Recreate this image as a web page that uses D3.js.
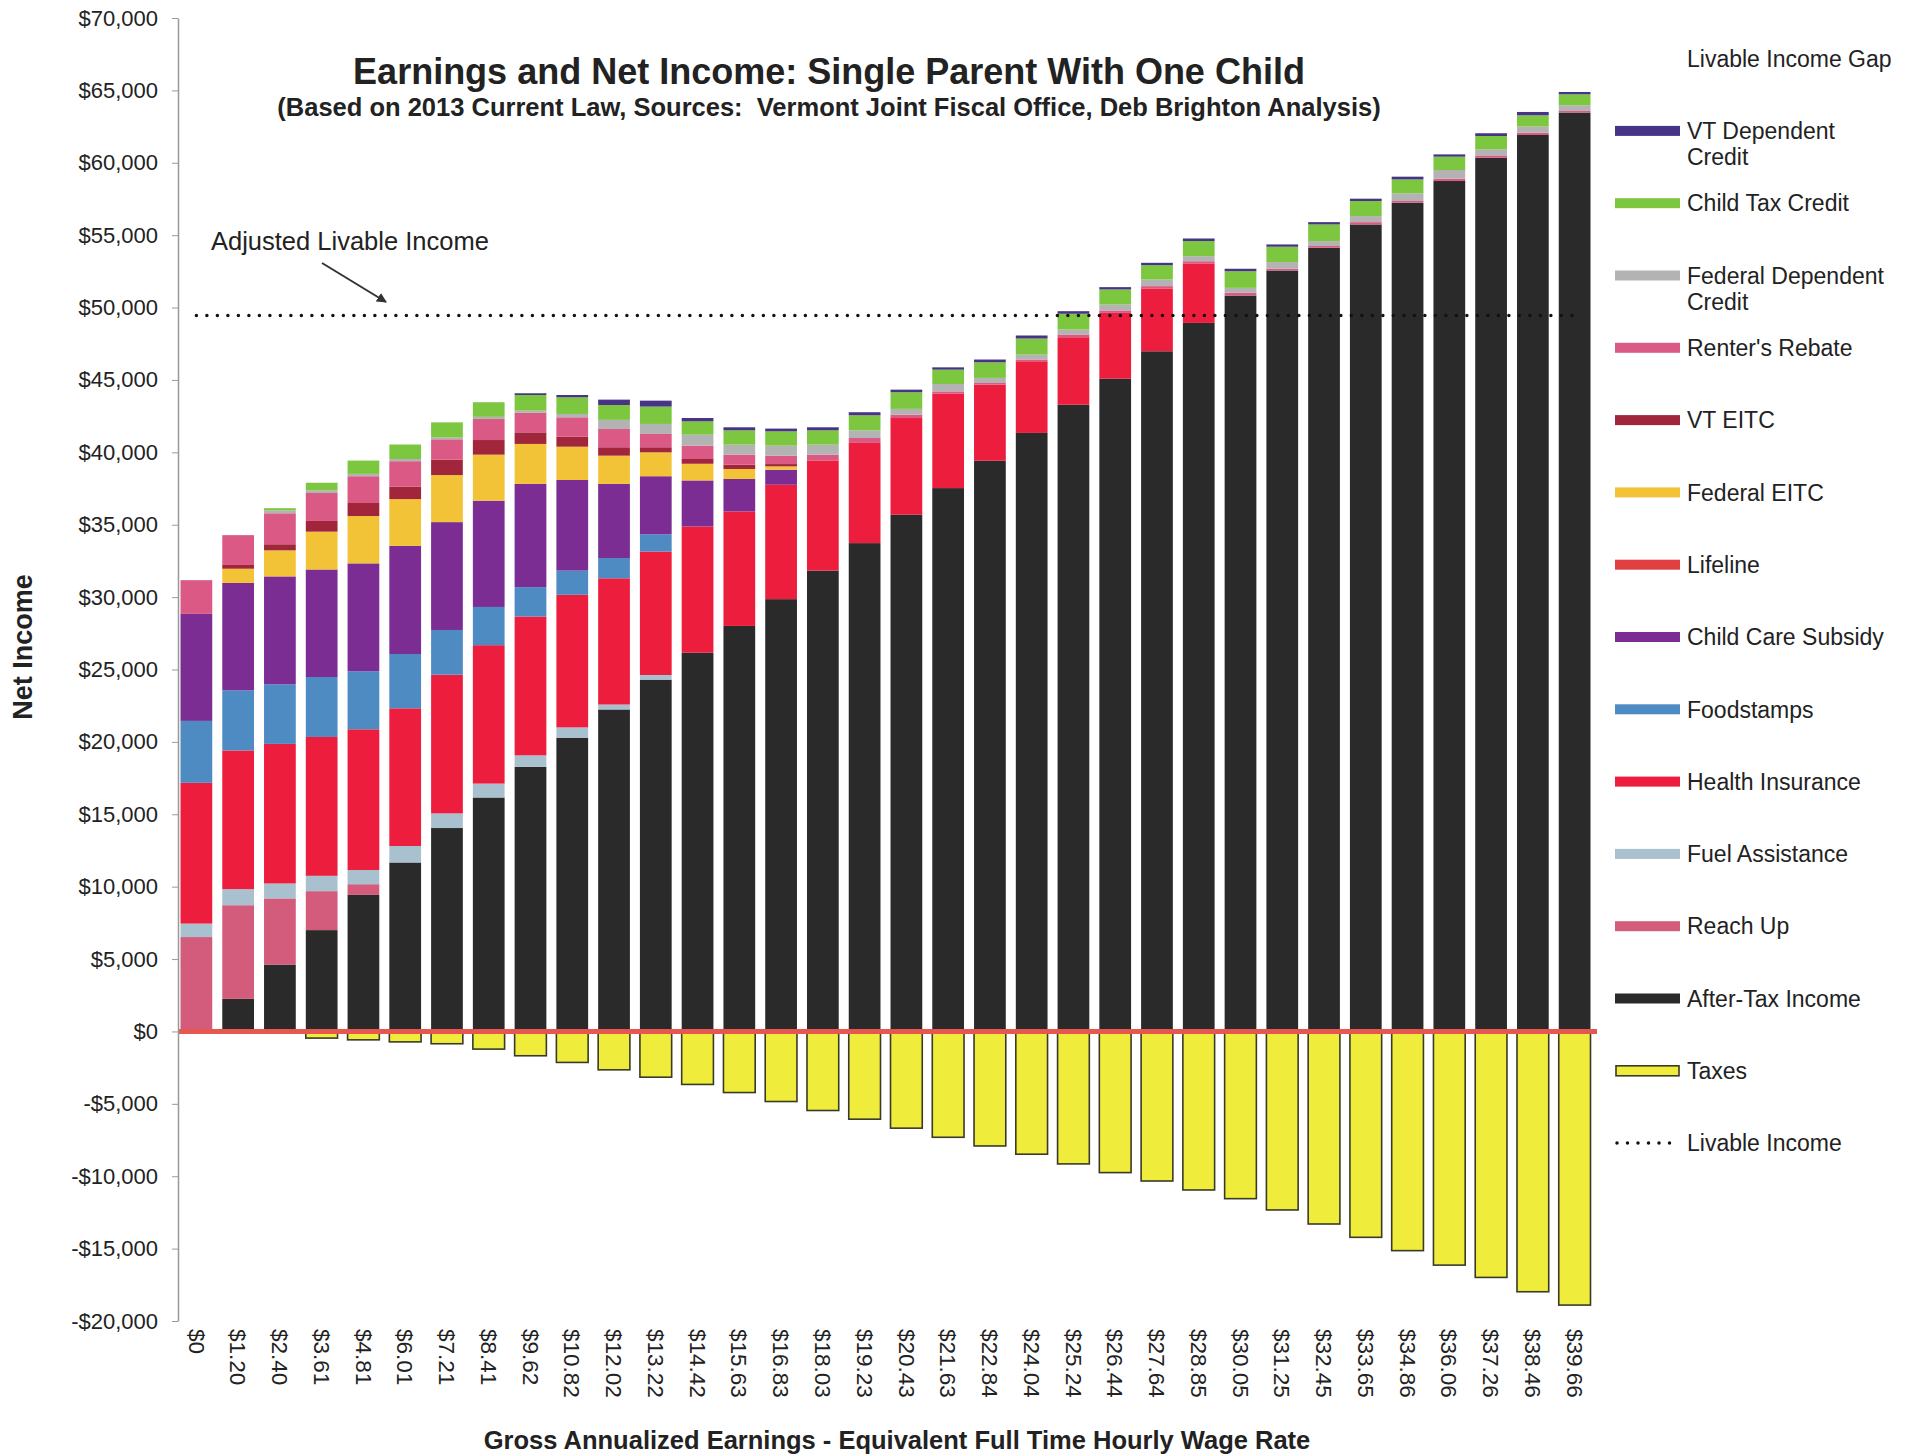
<!DOCTYPE html>
<html>
<head>
<meta charset="utf-8">
<title>Earnings and Net Income: Single Parent With One Child</title>
<script src="https://cdn.jsdelivr.net/npm/d3@7"></script>
<style>
  html, body { margin: 0; padding: 0; background: #fff; }
  svg { display: block; font-family: "Liberation Sans", Arial, sans-serif; }
</style>
</head>
<body>
<div id="chart"></div>
<script>
// Gross annualized earnings, shown as the equivalent full time hourly wage
const wageLabels = ['$0', '$1.20', '$2.40', '$3.61', '$4.81', '$6.01', '$7.21', '$8.41', '$9.62', '$10.82',
    '$12.02', '$13.22', '$14.42', '$15.63', '$16.83', '$18.03', '$19.23', '$20.43', '$21.63', '$22.84',
    '$24.04', '$25.24', '$26.44', '$27.64', '$28.85', '$30.05', '$31.25', '$32.45', '$33.65', '$34.86',
    '$36.06', '$37.26', '$38.46', '$39.66'];

// Net income components in dollars
const afterTaxIncome = [0, 2250, 4620, 7000, 9430, 11670, 14050, 16160, 18280, 20290, 22240, 24300, 26160, 28010, 29860, 31830, 33730, 35690, 37530, 39420, 41340, 43290, 45090, 46980, 48940, 50830, 52560, 54130, 55740, 57240, 58740, 60350, 61920, 63470];
const reachUp = [6520, 6470, 4570, 2690, 740, 0, 0, 0, 0, 0, 0, 0, 0, 0, 0, 0, 0, 0, 0, 0, 0, 0, 0, 0, 0, 0, 0, 0, 0, 0, 0, 0, 0, 0];
const fuelAssistance = [930, 1110, 1030, 1060, 980, 1140, 1010, 960, 790, 710, 340, 320, 0, 0, 0, 0, 0, 0, 0, 0, 0, 0, 0, 0, 0, 0, 0, 0, 0, 0, 0, 0, 0, 0];
const healthInsurance = [9720, 9580, 9640, 9590, 9720, 9510, 9580, 9560, 9590, 9160, 8720, 8530, 8720, 7910, 7900, 7610, 6920, 6680, 6520, 5260, 4950, 4660, 4540, 4340, 4080, 0, 0, 0, 0, 0, 0, 0, 0, 0];
const foodstamps = [4280, 4150, 4120, 4140, 4010, 3750, 3090, 2640, 2030, 1670, 1400, 1190, 0, 0, 0, 0, 0, 0, 0, 0, 0, 0, 0, 0, 0, 0, 0, 0, 0, 0, 0, 0, 0, 0];
const childCareSubsidy = [7390, 7420, 7450, 7430, 7450, 7470, 7450, 7340, 7130, 6260, 5120, 4010, 3180, 2240, 1040, 0, 0, 0, 0, 0, 0, 0, 0, 0, 0, 0, 0, 0, 0, 0, 0, 0, 0, 0];
const lifeline = [0, 0, 0, 0, 0, 0, 0, 0, 0, 0, 0, 0, 0, 0, 0, 0, 0, 0, 0, 0, 0, 0, 0, 0, 0, 0, 0, 0, 0, 0, 0, 0, 0, 0];
const federalEITC = [0, 980, 1800, 2610, 3270, 3230, 3250, 3180, 2760, 2300, 1950, 1650, 1150, 690, 230, 0, 0, 0, 0, 0, 0, 0, 0, 0, 0, 0, 0, 0, 0, 0, 0, 0, 0, 0];
const vtEITC = [0, 260, 420, 740, 900, 870, 1060, 1010, 800, 690, 580, 350, 330, 300, 160, 0, 0, 0, 0, 0, 0, 0, 0, 0, 0, 0, 0, 0, 0, 0, 0, 0, 0, 0];
const rentersRebate = [2330, 2060, 2140, 1930, 1850, 1750, 1410, 1450, 1350, 1340, 1260, 920, 920, 690, 580, 400, 340, 230, 160, 110, 120, 190, 170, 160, 180, 190, 120, 120, 160, 120, 160, 160, 160, 110];
const federalDependentCredit = [0, 0, 200, 180, 160, 150, 120, 150, 150, 230, 630, 690, 760, 690, 690, 690, 530, 400, 510, 350, 340, 340, 410, 460, 350, 340, 460, 340, 420, 530, 600, 420, 420, 390];
const childTaxCredit = [0, 0, 150, 530, 920, 1000, 1050, 1010, 1080, 1150, 1030, 1200, 920, 990, 990, 990, 1040, 1150, 990, 1080, 1110, 1090, 1040, 990, 1040, 1150, 1060, 1150, 1040, 960, 920, 920, 780, 760];
const vtDependentCredit = [0, 0, 0, 0, 0, 0, 0, 0, 120, 160, 370, 410, 230, 210, 190, 210, 210, 180, 160, 190, 210, 180, 160, 160, 180, 170, 160, 160, 160, 190, 160, 190, 230, 160];
const taxes = [0, 0, -100, -460, -580, -720, -850, -1220, -1680, -2140, -2650, -3160, -3660, -4220, -4840, -5460, -6060, -6680, -7310, -7910, -8480, -9150, -9750, -10330, -10950, -11550, -12330, -13300, -14220, -15140, -16140, -16990, -17980, -18900];

const livableIncome = 49450;
const yTickValues = [-20000, -15000, -10000, -5000, 0, 5000, 10000, 15000, 20000, 25000, 30000, 35000, 40000, 45000, 50000, 55000, 60000, 65000, 70000];

(function() {
    'use strict';

    const width = 1913;
    const height = 1455;
    const textColor = '#222';

    // stacked from the bottom up
    const series = [
        { key: 'afterTax', label: 'After-Tax Income', color: '#2a2a2a', values: afterTaxIncome },
        { key: 'reachUp', label: 'Reach Up', color: '#d35b7b', values: reachUp },
        { key: 'fuel', label: 'Fuel Assistance', color: '#a9c0ce', values: fuelAssistance },
        { key: 'health', label: 'Health Insurance', color: '#ed1d3d', values: healthInsurance },
        { key: 'food', label: 'Foodstamps', color: '#4f8bc3', values: foodstamps },
        { key: 'childCare', label: 'Child Care Subsidy', color: '#7b2d93', values: childCareSubsidy },
        { key: 'lifeline', label: 'Lifeline', color: '#e0403f', values: lifeline },
        { key: 'fedEITC', label: 'Federal EITC', color: '#f2c237', values: federalEITC },
        { key: 'vtEITC', label: 'VT EITC', color: '#a2263b', values: vtEITC },
        { key: 'renters', label: "Renter's Rebate", color: '#da5985', values: rentersRebate },
        { key: 'fedDep', label: 'Federal Dependent Credit', color: '#b3b3b3', values: federalDependentCredit },
        { key: 'childTax', label: 'Child Tax Credit', color: '#7cc73f', values: childTaxCredit },
        { key: 'vtDep', label: 'VT Dependent Credit', color: '#473487', values: vtDependentCredit }
    ];

    const rows = wageLabels.map((wage, i) => {
        const row = { wage: wage };
        series.forEach(s => { row[s.key] = s.values[i]; });
        return row;
    });

    const svg = d3.select('#chart')
        .append('svg')
        .attr('width', width)
        .attr('height', height);

    const x = d3.scaleBand()
        .domain(wageLabels)
        .range([178, 1593])
        .paddingInner(0.24)
        .paddingOuter(0.06);

    const y = d3.scaleLinear()
        .domain([-20000, 70000])
        .range([1321, 18]);

    // Titles
    svg.append('text')
        .attr('x', 829).attr('y', 84)
        .attr('text-anchor', 'middle')
        .attr('font-size', 36).attr('font-weight', 'bold')
        .attr('fill', textColor)
        .text('Earnings and Net Income: Single Parent With One Child');

    svg.append('text')
        .attr('x', 829).attr('y', 116)
        .attr('text-anchor', 'middle')
        .attr('font-size', 25.5).attr('font-weight', 'bold')
        .attr('fill', textColor)
        .attr('xml:space', 'preserve')
        .text('(Based on 2013 Current Law, Sources:  Vermont Joint Fiscal Office, Deb Brighton Analysis)');

    // Stacked positive components
    const stacked = d3.stack().keys(series.map(s => s.key))(rows);

    svg.append('g')
        .selectAll('g')
        .data(stacked)
        .enter()
        .append('g')
        .attr('fill', (d, i) => series[i].color)
        .selectAll('rect')
        .data(d => d.filter(p => p[1] > p[0]))
        .enter()
        .append('rect')
        .attr('x', d => x(d.data.wage))
        .attr('width', x.bandwidth())
        .attr('y', d => y(d[1]))
        .attr('height', d => y(d[0]) - y(d[1]));

    // Taxes below zero
    svg.append('g')
        .selectAll('rect')
        .data(wageLabels.map((w, i) => ({ wage: w, value: taxes[i] })).filter(d => d.value < 0))
        .enter()
        .append('rect')
        .attr('x', d => x(d.wage))
        .attr('width', x.bandwidth())
        .attr('y', y(0))
        .attr('height', d => y(d.value) - y(0))
        .attr('fill', '#efec3c')
        .attr('stroke', '#3a3a28')
        .attr('stroke-width', 1.6);

    // Zero line
    svg.append('line')
        .attr('x1', 178).attr('x2', 1597)
        .attr('y1', y(0)).attr('y2', y(0))
        .attr('stroke', '#e5574f')
        .attr('stroke-width', 5);

    // Livable income (dotted)
    const first = wageLabels[0];
    const last = wageLabels[wageLabels.length - 1];
    svg.append('line')
        .attr('x1', x(first) + x.bandwidth() / 2)
        .attr('x2', x(last) + x.bandwidth() / 2)
        .attr('y1', y(livableIncome)).attr('y2', y(livableIncome))
        .attr('stroke', '#111')
        .attr('stroke-width', 3.5)
        .attr('stroke-linecap', 'round')
        .attr('stroke-dasharray', '0 10.5');

    // Annotation
    svg.append('defs').append('marker')
        .attr('id', 'arrow')
        .attr('viewBox', '0 0 10 10')
        .attr('refX', 9).attr('refY', 5)
        .attr('markerWidth', 5).attr('markerHeight', 5)
        .attr('orient', 'auto')
        .append('path')
        .attr('d', 'M0,0 L10,5 L0,10 z')
        .attr('fill', '#333');

    svg.append('text')
        .attr('x', 211).attr('y', 250)
        .attr('font-size', 25.5)
        .attr('fill', textColor)
        .text('Adjusted Livable Income');

    svg.append('line')
        .attr('x1', 322).attr('y1', 263)
        .attr('x2', 386).attr('y2', 302)
        .attr('stroke', '#333')
        .attr('stroke-width', 2)
        .attr('marker-end', 'url(#arrow)');

    // Y axis
    const moneyFormat = d => (d < 0 ? '-' : '') + '$' + d3.format(',')(Math.abs(d));
    const yAxis = svg.append('g')
        .attr('transform', 'translate(178,0)')
        .call(d3.axisLeft(y)
            .tickValues(yTickValues)
            .tickFormat(moneyFormat)
            .tickSize(6)
            .tickSizeOuter(0)
            .tickPadding(14));
    yAxis.select('.domain').attr('stroke', '#999').attr('stroke-width', 1.5);
    yAxis.selectAll('.tick line').attr('stroke', '#999');
    yAxis.selectAll('.tick text')
        .attr('font-size', 22)
        .attr('font-family', '"Liberation Sans", Arial, sans-serif')
        .attr('fill', textColor);

    // X axis labels (rotated)
    const xAxis = svg.append('g')
        .attr('transform', 'translate(0,' + y(-20000) + ')')
        .call(d3.axisBottom(x).tickSize(0));
    xAxis.select('.domain').remove();
    xAxis.selectAll('.tick text')
        .attr('transform', 'rotate(90)')
        .attr('x', 8)
        .attr('y', 0)
        .attr('dy', '0.35em')
        .attr('text-anchor', 'start')
        .attr('font-size', 22.5)
        .attr('font-family', '"Liberation Sans", Arial, sans-serif')
        .attr('fill', textColor);

    // Axis titles
    svg.append('text')
        .attr('transform', 'translate(32,647) rotate(-90)')
        .attr('text-anchor', 'middle')
        .attr('font-size', 27).attr('font-weight', 'bold')
        .attr('fill', textColor)
        .text('Net Income');

    svg.append('text')
        .attr('x', 897).attr('y', 1449)
        .attr('text-anchor', 'middle')
        .attr('font-size', 25.5).attr('font-weight', 'bold')
        .attr('fill', textColor)
        .text('Gross Annualized Earnings - Equivalent Full Time Hourly Wage Rate');

    // Legend
    const legendItems = [
        { lines: ['Livable Income Gap'], type: 'none' },
        { lines: ['VT Dependent', 'Credit'], type: 'bar', color: '#473487' },
        { lines: ['Child Tax Credit'], type: 'bar', color: '#7cc73f' },
        { lines: ['Federal Dependent', 'Credit'], type: 'bar', color: '#b3b3b3' },
        { lines: ["Renter's Rebate"], type: 'bar', color: '#da5985' },
        { lines: ['VT EITC'], type: 'bar', color: '#a2263b' },
        { lines: ['Federal EITC'], type: 'bar', color: '#f2c237' },
        { lines: ['Lifeline'], type: 'bar', color: '#e0403f' },
        { lines: ['Child Care Subsidy'], type: 'bar', color: '#7b2d93' },
        { lines: ['Foodstamps'], type: 'bar', color: '#4f8bc3' },
        { lines: ['Health Insurance'], type: 'bar', color: '#ed1d3d' },
        { lines: ['Fuel Assistance'], type: 'bar', color: '#a9c0ce' },
        { lines: ['Reach Up'], type: 'bar', color: '#d35b7b' },
        { lines: ['After-Tax Income'], type: 'bar', color: '#2a2a2a' },
        { lines: ['Taxes'], type: 'taxes' },
        { lines: ['Livable Income'], type: 'dots' }
    ];

    const legend = svg.append('g')
        .attr('transform', 'translate(1615,0)');

    const item = legend.selectAll('g')
        .data(legendItems)
        .enter()
        .append('g')
        .attr('transform', (d, i) => 'translate(0,' + (58.6 + i * 72.3) + ')');

    item.filter(d => d.type === 'bar')
        .append('rect')
        .attr('x', 0).attr('y', -5)
        .attr('width', 65).attr('height', 10)
        .attr('fill', d => d.color);

    item.filter(d => d.type === 'taxes')
        .append('rect')
        .attr('x', 1).attr('y', -5)
        .attr('width', 63).attr('height', 10)
        .attr('fill', '#efec3c')
        .attr('stroke', '#3a3a28')
        .attr('stroke-width', 1.6);

    item.filter(d => d.type === 'dots')
        .append('line')
        .attr('x1', 2).attr('x2', 65)
        .attr('y1', 0).attr('y2', 0)
        .attr('stroke', '#111')
        .attr('stroke-width', 3.5)
        .attr('stroke-linecap', 'round')
        .attr('stroke-dasharray', '0 10.5');

    item.append('text')
        .attr('x', 72)
        .attr('font-size', 23)
        .attr('fill', textColor)
        .selectAll('tspan')
        .data(d => d.lines)
        .enter()
        .append('tspan')
        .attr('x', 72)
        .attr('y', (d, i) => i * 26)
        .attr('dy', '0.36em')
        .text(d => d);
})();
</script>
</body>
</html>
